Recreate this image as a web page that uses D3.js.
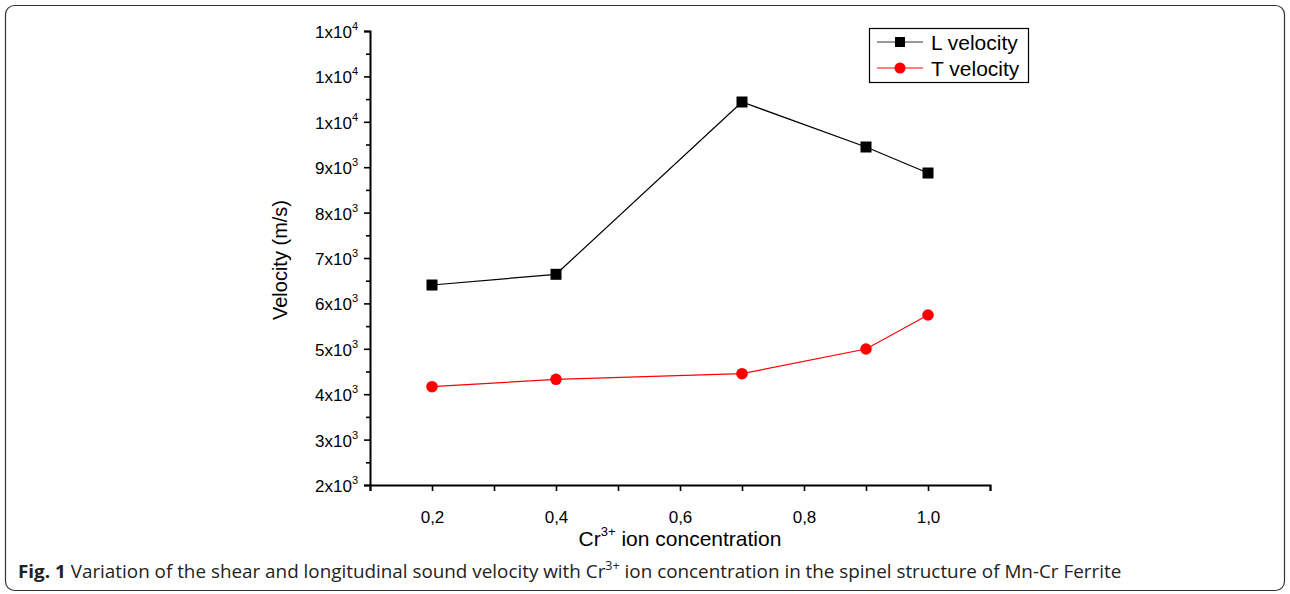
<!DOCTYPE html>
<html><head><meta charset="utf-8">
<script src="https://cdn.jsdelivr.net/npm/d3@7"></script>
<style>body{margin:0;background:#fff}svg{display:block}</style>
</head><body>
<svg id="c" width="1290" height="594"></svg>
<script>
const xValues = [0.2, 0.4, 0.7, 0.9, 1.0];
const lVelocity = [6405, 6641, 10436, 9445, 8872];
const tVelocity = [4165, 4328, 4452, 4996, 5744];
const seriesNames = ["L velocity", "T velocity"];
const xTicks = [0.2, 0.4, 0.6, 0.8, 1.0];
const xTickLabels = ["0,2", "0,4", "0,6", "0,8", "1,0"];
const yTicks = [2000, 3000, 4000, 5000, 6000, 7000, 8000, 9000, 10000, 11000, 12000];
const yTickMantissa = ["2", "3", "4", "5", "6", "7", "8", "9", "1", "1", "1"];
const yTickExponent = ["3", "3", "3", "3", "3", "3", "3", "3", "4", "4", "4"];

const svg = d3.select("#c");
const F = "'Liberation Sans', Arial, sans-serif";

// frame
svg.append("rect").attr("x", 5.5).attr("y", 5.5).attr("width", 1279).attr("height", 585)
  .attr("rx", 9).attr("fill", "none").attr("stroke", "#333").attr("stroke-width", 1.2);

const x = d3.scaleLinear().domain([0.1, 1.1]).range([370, 990]);
const y = d3.scaleLinear().domain([2000, 12000]).range([485, 31]);

const g = svg.append("g");

// x axis
const xa = g.append("g").attr("transform", "translate(0,485)")
  .call(d3.axisBottom(x).tickValues(d3.range(0.1, 1.1001, 0.1)).tickSize(6).tickFormat(""));
xa.select(".domain").attr("stroke", "#000").attr("stroke-width", 2);
xa.selectAll(".tick line").attr("stroke", "#000").attr("stroke-width", 1.6);
const xl = g.append("g").attr("transform", "translate(0,485)")
  .call(d3.axisBottom(x).tickValues(xTicks).tickSize(0).tickPadding(26).tickFormat((d, i) => xTickLabels[i]));
xl.select(".domain").remove();
xl.selectAll("text").attr("font-family", F).attr("font-size", 17).attr("fill", "#000");

// y axis
const ya = g.append("g").attr("transform", "translate(370,0)")
  .call(d3.axisLeft(y).tickValues(yTicks).tickSize(6).tickFormat(""));
ya.select(".domain").attr("stroke", "#000").attr("stroke-width", 2);
ya.selectAll(".tick line").attr("stroke", "#000").attr("stroke-width", 1.6);
const ym = g.append("g").attr("transform", "translate(370,0)")
  .call(d3.axisLeft(y).tickValues(d3.range(2500, 12000, 1000)).tickSize(4).tickFormat(""));
ym.select(".domain").remove();
ym.selectAll(".tick line").attr("stroke", "#000").attr("stroke-width", 1.6);

// y tick labels with superscript
yTicks.forEach((v, i) => {
  const t = g.append("text").attr("x", 358).attr("y", y(v) + 7)
    .attr("text-anchor", "end").attr("font-family", F).attr("font-size", 17).attr("fill", "#000");
  t.append("tspan").text(yTickMantissa[i] + "x10");
  t.append("tspan").attr("dy", -8).attr("font-size", 11).text(yTickExponent[i]);
});

// axis titles
g.append("text").attr("transform", "translate(287,260) rotate(-90)")
  .attr("text-anchor", "middle").attr("font-family", F).attr("font-size", 20).attr("fill", "#000")
  .text("Velocity (m/s)");
const xt = g.append("text").attr("x", 680).attr("y", 546).attr("text-anchor", "middle")
  .attr("font-family", F).attr("font-size", 21).attr("fill", "#000");
xt.append("tspan").text("Cr");
xt.append("tspan").attr("dy", -10).attr("font-size", 13).text("3+");
xt.append("tspan").attr("dy", 10).text(" ion concentration");

// series
const line = d3.line().x(d => x(d[0])).y(d => y(d[1]));
const lData = xValues.map((v, i) => [v, lVelocity[i]]);
const tData = xValues.map((v, i) => [v, tVelocity[i]]);
g.append("path").datum(lData).attr("d", line).attr("fill", "none").attr("stroke", "#000").attr("stroke-width", 1.2);
g.append("path").datum(tData).attr("d", line).attr("fill", "none").attr("stroke", "#f00").attr("stroke-width", 1.2);
g.selectAll(".sq").data(lData).enter().append("rect")
  .attr("x", d => x(d[0]) - 5.5).attr("y", d => y(d[1]) - 5.5).attr("width", 11).attr("height", 11)
  .attr("fill", "#000");
g.selectAll(".ci").data(tData).enter().append("circle")
  .attr("cx", d => x(d[0])).attr("cy", d => y(d[1])).attr("r", 5.8).attr("fill", "#f00");

// legend
const lg = svg.append("g");
lg.append("rect").attr("x", 869.5).attr("y", 28.5).attr("width", 159).attr("height", 54)
  .attr("fill", "#fff").attr("stroke", "#000").attr("stroke-width", 1.2);
[[seriesNames[0], "#000", "sq", 42], [seriesNames[1], "#f00", "ci", 68]].forEach(([name, col, m, cy]) => {
  lg.append("line").attr("x1", 877).attr("x2", 923).attr("y1", cy).attr("y2", cy)
    .attr("stroke", col === "#000" ? "#333" : col).attr("stroke-width", 1.2);
  if (m === "sq") lg.append("rect").attr("x", 900 - 5).attr("y", cy - 5).attr("width", 10).attr("height", 10).attr("fill", col);
  else lg.append("circle").attr("cx", 900).attr("cy", cy).attr("r", 5.5).attr("fill", col);
  lg.append("text").attr("x", 931).attr("y", cy + 7.5).attr("font-family", F).attr("font-size", 21).attr("fill", "#000").text(name);
});

// caption
const cap = svg.append("text").attr("x", 18).attr("y", 578)
  .attr("font-family", "'Open Sans', 'Noto Sans', sans-serif").attr("font-size", 18).attr("fill", "#222");
cap.append("tspan").attr("font-weight", "bold").text("Fig. 1");
cap.append("tspan").text(" Variation of the shear and longitudinal sound velocity with Cr");
cap.append("tspan").attr("dy", -8).attr("font-size", 12).text("3+");
cap.append("tspan").attr("dy", 8).text(" ion concentration in the spinel structure of Mn-Cr Ferrite");
const bb = cap.node().getBBox();
const target = 1122 - 18;
if (bb.width > 0) {
  cap.attr("transform", `translate(18,0) scale(${target / bb.width},1) translate(-18,0)`);
}
</script>
</body></html>
